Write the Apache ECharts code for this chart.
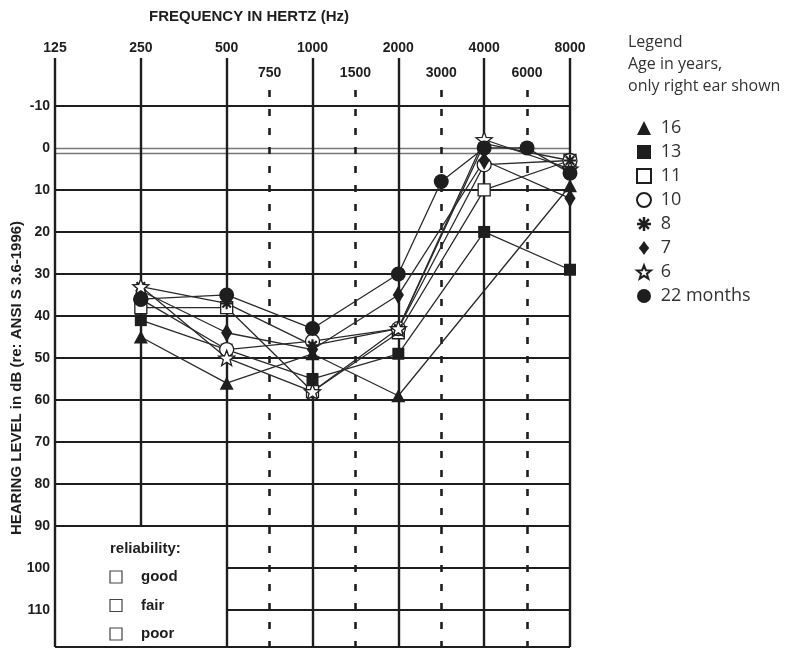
<!DOCTYPE html>
<html>
<head>
<meta charset="utf-8">
<script src="https://cdn.jsdelivr.net/npm/echarts@6/dist/echarts.min.js"></script>
<style>
	html, body { margin: 0; padding: 0; background: #fff; }
	#main { width: 785px; height: 649px; }
</style>
</head>
<body>
<div id="main"></div>
<script>
// audiogram frequencies: octaves on the top row, in-between ones on the second row
const octaveFreqs = [125, 250, 500, 1000, 2000, 4000, 8000];
const halfFreqs = [750, 1500, 3000, 6000];
const dbTicks = [-10, 0, 10, 20, 30, 40, 50, 60, 70, 80, 90, 100, 110];

// [frequency Hz, hearing level dB], right ear
const age16 = [[250, 45], [500, 56], [1000, 49], [2000, 59], [8000, 9]];
const age13 = [[250, 41], [500, 48], [1000, 55], [2000, 49], [4000, 20], [8000, 29]];
const age11 = [[250, 38], [500, 38], [1000, 58], [2000, 44], [4000, 10], [8000, 3]];
const age10 = [[250, 36], [500, 48], [1000, 46], [2000, 43], [4000, 4], [8000, 3]];
const age8 = [[250, 33], [500, 37], [1000, 47], [2000, 43], [4000, -1], [8000, 3]];
const age7 = [[250, 34], [500, 44], [1000, 48], [2000, 35], [4000, 3], [8000, 12]];
const age6 = [[250, 33], [500, 50], [1000, 58], [2000, 43], [4000, -2], [8000, 5]];
const age22m = [[250, 36], [500, 35], [1000, 43], [2000, 30], [3000, 8], [4000, 0], [6000, 0], [8000, 6]];

const Y_MIN = -21.4;
const Y_MAX = 118.8;
const INK = '#1e1e1e';
const FONT = "'Liberation Sans', Arial, sans-serif";
const LEGEND_FONT = "'Open Sans', sans-serif";

// the chart puts half-octave frequencies midway between the octaves
function freqPos(f) {
	const h = halfFreqs.indexOf(f);
	if (h >= 0) return h + 2.5;
	return Math.log2(f / 125);
}

function toPoints(arr) {
	return arr.map(d => [freqPos(d[0]), d[1]]);
}

function starPath(n, r1, r2) {
	let s = '';
	for (let i = 0; i < n * 2; i++) {
		const r = i % 2 === 0 ? r1 : r2;
		const a = Math.PI * i / n - Math.PI / 2;
		s += (i === 0 ? 'M' : 'L') + (r * Math.cos(a)).toFixed(2) + ',' + (r * Math.sin(a)).toFixed(2) + ' ';
	}
	return 'path://' + s + 'Z';
}

function asteriskPath() {
	let s = '';
	[0, 45, 90, 135].forEach(deg => {
		const a = deg * Math.PI / 180;
		const c = Math.cos(a), sn = Math.sin(a);
		const L = 10, W = 1.8;
		const pts = [[-L, -W], [L, -W], [L, W], [-L, W]].map(p => [p[0] * c - p[1] * sn, p[0] * sn + p[1] * c]);
		s += 'M' + pts.map(p => p[0].toFixed(2) + ',' + p[1].toFixed(2)).join(' L') + ' Z ';
	});
	return 'path://' + s;
}

const diamondPath = 'path://M0,-10 L4,-4.2 L7.5,0 L4,4.2 L0,10 L-4,4.2 L-7.5,0 L-4,-4.2 Z';

const seriesDefs = [
	{ name: '16', data: age16, symbol: 'triangle', size: [14, 13], hollow: false },
	{ name: '13', data: age13, symbol: 'rect', size: 12, hollow: false },
	{ name: '11', data: age11, symbol: 'rect', size: 12, hollow: true },
	{ name: '10', data: age10, symbol: 'circle', size: 14, hollow: true },
	{ name: '8', data: age8, symbol: asteriskPath(), size: 12, hollow: false },
	{ name: '7', data: age7, symbol: diamondPath, size: [15, 19], hollow: false },
	{ name: '6', data: age6, symbol: starPath(5, 10, 4.2), size: 16, hollow: true },
	{ name: '22 months', data: age22m, symbol: 'circle', size: 15, hollow: false }
];

// grid lines of the audiogram form
const gridLines = [];
dbTicks.forEach(d => {
	if (d === 0) return;
	gridLines.push([{ coord: [d >= 100 ? 2 : 0, d] }, { coord: [6, d] }]);
});
[0, 1.25].forEach(d => {
	gridLines.push([{ coord: [0, d], lineStyle: { color: '#777', width: 1.4, type: 'solid' } }, { coord: [6, d] }]);
});
gridLines.push([{ coord: [0, Y_MAX] }, { coord: [6, Y_MAX] }]);
octaveFreqs.forEach((f, i) => {
	gridLines.push([{ coord: [i, Y_MIN], lineStyle: { width: 2.4 } }, { coord: [i, i === 1 ? 90 : Y_MAX] }]);
});
halfFreqs.forEach(f => {
	gridLines.push([
		{ coord: [freqPos(f), -13.8], lineStyle: { width: 2.6, type: [7, 12] } },
		{ coord: [freqPos(f), Y_MAX] }
	]);
});

const chart = echarts.init(document.getElementById('main'));

const series = seriesDefs.map(s => ({
	name: s.name,
	type: 'line',
	data: toPoints(s.data),
	symbol: s.symbol,
	symbolSize: s.size,
	symbolKeepAspect: true,
	showAllSymbol: true,
	z: 5,
	lineStyle: { color: '#2a2a2a', width: 1.3 },
	itemStyle: s.hollow
		? { color: '#fff', borderColor: INK, borderWidth: 1.3 }
		: { color: INK, borderColor: INK, borderWidth: 0 },
	emphasis: { disabled: true }
}));

series.push({
	type: 'line',
	name: 'grid',
	data: [],
	silent: true,
	z: 1,
	markLine: {
		silent: true,
		animation: false,
		symbol: ['none', 'none'],
		label: { show: false },
		lineStyle: { color: INK, width: 2, type: 'solid' },
		data: gridLines
	}
});

const option = {
	animation: false,
	grid: { left: 55, right: 215, top: 58, bottom: 2 },
	xAxis: [
		{
			type: 'value', position: 'top', min: 0, max: 6, interval: 1,
			axisLine: { show: false }, axisTick: { show: false }, splitLine: { show: false },
			axisLabel: {
				margin: 3, color: INK, fontFamily: FONT, fontWeight: 'bold', fontSize: 14,
				formatter: v => String(octaveFreqs[Math.round(v)])
			}
		},
		{
			type: 'value', position: 'top', min: 0, max: 6,
			axisLine: { show: false }, axisTick: { show: false }, splitLine: { show: false },
			axisLabel: {
				inside: true, margin: 8, color: INK, fontFamily: FONT, fontWeight: 'bold', fontSize: 14,
				customValues: halfFreqs.map(freqPos),
				formatter: v => String(halfFreqs[Math.round(v - 2.5)])
			}
		}
	],
	yAxis: {
		type: 'value', inverse: true, min: Y_MIN, max: Y_MAX,
		axisLine: { show: false }, axisTick: { show: false }, splitLine: { show: false },
		axisLabel: {
			margin: 5, color: INK, fontFamily: FONT, fontWeight: 'bold', fontSize: 14,
			customValues: dbTicks
		}
	},
	legend: {
		orient: 'vertical', left: 631, top: 114,
		itemWidth: 14, itemHeight: 14, itemGap: 6,
		selectedMode: false,
		formatter: name => ' ' + name,
		textStyle: { fontFamily: LEGEND_FONT, fontSize: 18, color: '#333' },
		data: seriesDefs.map(s => ({ name: s.name, icon: s.symbol }))
	},
	graphic: [
		{
			type: 'text', x: 249, y: 17,
			style: { text: 'FREQUENCY IN HERTZ (Hz)', font: 'bold 15px ' + FONT, fill: INK, align: 'center', verticalAlign: 'middle' }
		},
		{
			type: 'text', x: 17, y: 378, rotation: Math.PI / 2,
			style: { text: 'HEARING LEVEL in dB (re: ANSI S 3.6-1996)', font: 'bold 15px ' + FONT, fill: INK, align: 'center', verticalAlign: 'middle' }
		},
		{
			type: 'text', x: 628, y: 42,
			style: { text: 'Legend', font: '16px ' + LEGEND_FONT, fill: '#333', verticalAlign: 'middle' }
		},
		{
			type: 'text', x: 628, y: 64,
			style: { text: 'Age in years,', font: '16px ' + LEGEND_FONT, fill: '#333', verticalAlign: 'middle' }
		},
		{
			type: 'text', x: 628, y: 86,
			style: { text: 'only right ear shown', font: '16px ' + LEGEND_FONT, fill: '#333', verticalAlign: 'middle' }
		},
		{
			type: 'text', x: 110, y: 549,
			style: { text: 'reliability:', font: 'bold 15px ' + FONT, fill: INK, verticalAlign: 'middle' }
		},
		...['good', 'fair', 'poor'].map((t, i) => ({
			type: 'group',
			children: [
				{
					type: 'rect', shape: { x: 110, y: 571 + i * 28.5, width: 12, height: 12 },
					style: { fill: '#fff', stroke: '#444', lineWidth: 1.2 }
				},
				{
					type: 'text', x: 141, y: 577 + i * 28.5,
					style: { text: t, font: 'bold 15px ' + FONT, fill: INK, verticalAlign: 'middle' }
				}
			]
		}))
	],
	series: series
};

chart.setOption(option);
</script>
</body>
</html>
